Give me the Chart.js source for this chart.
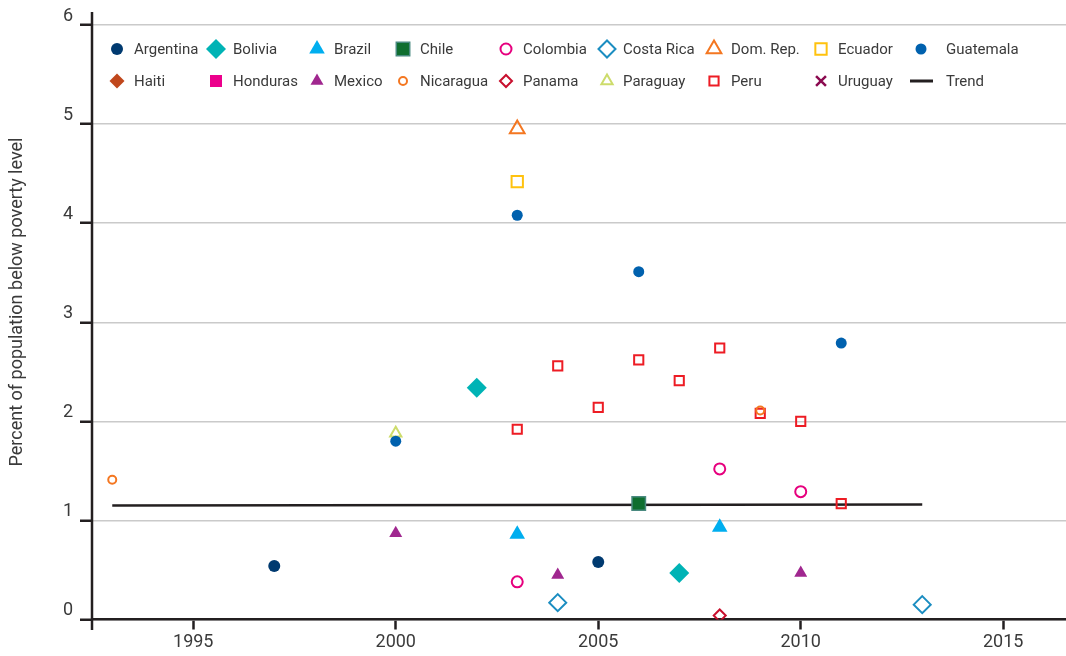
<!DOCTYPE html>
<html>
<head>
<meta charset="utf-8">
<title>Poverty level by country</title>
<script src="https://cdn.jsdelivr.net/npm/chart.js@4.4.1/dist/chart.umd.min.js"></script>
<style>
  html, body { margin: 0; padding: 0; background: #fff; }
  #wrap { width: 1066px; height: 656px; position: relative; }
</style>
</head>
<body>
<div id="wrap"><canvas id="povertyChart"></canvas></div>
<script>
// [year, percent] pairs
const argentina = [[1997, 0.54], [2005, 0.58]];
const bolivia = [[2002, 2.34], [2007, 0.47]];
const brazil = [[2003, 0.86], [2008, 0.93]];
const chile = [[2006, 1.17]];
const colombia = [[2003, 0.38], [2008, 1.52], [2010, 1.29]];
const costaRica = [[2004, 0.17], [2013, 0.15]];
const domRep = [[2003, 4.95]];
const ecuador = [[2003, 4.42]];
const guatemala = [[2000, 1.80], [2003, 4.08], [2006, 3.51], [2011, 2.79]];
const haiti = [];
const honduras = [];
const mexico = [[2000, 0.87], [2004, 0.45], [2010, 0.47]];
const nicaragua = [[1993, 1.41], [2009, 2.11]];
const panama = [[2008, 0.04]];
const paraguay = [[2000, 1.88]];
const peru = [[2003, 1.92], [2004, 2.56], [2005, 2.14], [2006, 2.62], [2007, 2.41],
              [2008, 2.74], [2009, 2.08], [2010, 2.00], [2011, 1.17]];
const uruguay = [];
const trend = [[1993, 1.15], [2013, 1.16]];

const xTicks = [1995, 2000, 2005, 2010, 2015];
const yTicks = [0, 1, 2, 3, 4, 5, 6];
const yTitle = "Percent of population below poverty level";

const FONT = "Roboto";
const INK = "#231f20";
const TEXT = "#3a3a3a";
const NONE = "rgba(0,0,0,0)";

function toXY(pairs) {
    return pairs.map(p => ({ x: p[0], y: p[1] }));
}

// filled marker
function solid(label, pairs, style, color, r) {
    return {
        label: label, data: toXY(pairs), pointStyle: style,
        backgroundColor: color, borderColor: color, borderWidth: 0,
        pointRadius: r, pointHoverRadius: r,
    };
}

// hollow marker
function hollow(label, pairs, style, color, r, bw) {
    return {
        label: label, data: toXY(pairs), pointStyle: style,
        backgroundColor: NONE, borderColor: color, borderWidth: bw || 2,
        pointRadius: r, pointHoverRadius: r,
    };
}

const chileSet = solid("Chile", chile, "rect", "#0f6e2f", 9.5);
chileSet.borderColor = "#4a8a80";
chileSet.borderWidth = 1.5;

const datasets = [
    solid("Argentina", argentina, "circle", "#003a70", 6),
    solid("Bolivia", bolivia, "rectRot", "#00b3b5", 10),
    solid("Brazil", brazil, "triangle", "#00aeef", 9),
    chileSet,
    hollow("Colombia", colombia, "circle", "#e6007e", 5.5),
    hollow("Costa Rica", costaRica, "rectRot", "#1b8dc1", 8.5),
    hollow("Dom. Rep.", domRep, "triangle", "#f47721", 8.5),
    hollow("Ecuador", ecuador, "rect", "#ffc20e", 8),
    solid("Guatemala", guatemala, "circle", "#0061ae", 5.5),
    solid("Haiti", haiti, "rectRot", "#c0471c", 7.5),
    solid("Honduras", honduras, "rect", "#ec008c", 8.5),
    solid("Mexico", mexico, "triangle", "#a0278f", 7.5),
    hollow("Nicaragua", nicaragua, "circle", "#f47721", 4),
    hollow("Panama", panama, "rectRot", "#c8102e", 6),
    hollow("Paraguay", paraguay, "triangle", "#cddc6b", 6.5),
    hollow("Peru", peru, "rect", "#ed1c24", 6.5),
    hollow("Uruguay", uruguay, "crossRot", "#8b0a50", 7, 2.5),
    {
        label: "Trend", data: toXY(trend), showLine: true,
        borderColor: INK, backgroundColor: INK, borderWidth: 2.5,
        pointRadius: 0, pointHoverRadius: 0, order: 1,
    },
];

// legend laid out as a 9 x 2 grid like the original
const legendSymbolX = [117, 216, 317, 403, 506, 607, 714, 821, 921];
const legendTextX = [134, 233, 334, 420, 523, 623, 731, 838, 946];
const legendRowY = [49, 81];

const gridLegend = {
    id: "gridLegend",
    afterDraw(chart) {
        const ctx = chart.ctx;
        ctx.save();
        ctx.font = "15px " + FONT;
        ctx.textBaseline = "middle";
        ctx.textAlign = "left";
        chart.data.datasets.forEach((ds, i) => {
            const col = i % 9;
            const y = legendRowY[Math.floor(i / 9)];
            const sx = legendSymbolX[col];
            if (ds.showLine) {
                ctx.strokeStyle = ds.borderColor;
                ctx.lineWidth = 3;
                ctx.beginPath();
                ctx.moveTo(sx - 11, y);
                ctx.lineTo(sx + 12, y);
                ctx.stroke();
            } else {
                ctx.fillStyle = ds.backgroundColor;
                ctx.strokeStyle = ds.borderColor;
                ctx.lineWidth = ds.borderWidth;
                Chart.helpers.drawPoint(ctx, {
                    pointStyle: ds.pointStyle, radius: ds.pointRadius,
                    rotation: 0, borderWidth: ds.borderWidth,
                }, sx, y);
            }
            ctx.fillStyle = TEXT;
            ctx.fillText(ds.label, legendTextX[col], y + 1);
        });
        ctx.restore();
    },
};

// y title and the y axis line that runs past the plot at both ends
const axisExtras = {
    id: "axisExtras",
    afterDraw(chart) {
        const ctx = chart.ctx;
        const left = chart.chartArea.left;
        ctx.save();
        ctx.strokeStyle = INK;
        ctx.lineWidth = 2.5;
        ctx.beginPath();
        ctx.moveTo(left, 12);
        ctx.lineTo(left, 630);
        ctx.stroke();

        ctx.translate(17, 302);
        ctx.rotate(-Math.PI / 2);
        ctx.font = "18px " + FONT;
        ctx.fillStyle = TEXT;
        ctx.textAlign = "center";
        ctx.textBaseline = "middle";
        ctx.fillText(yTitle, 0, 0);
        ctx.restore();
    },
};

Chart.defaults.font.family = FONT;

const ctx = document.getElementById("povertyChart").getContext("2d");
new Chart(ctx, {
    type: "scatter",
    data: { datasets: datasets },
    options: {
        responsive: true,
        maintainAspectRatio: false,
        animation: false,
        layout: {
            autoPadding: false,
            padding: { top: 25, right: 0, bottom: 0, left: 0 },
        },
        scales: {
            x: {
                type: "linear",
                min: 1992.5,
                max: 2016.55,
                afterBuildTicks: (s) => { s.ticks = xTicks.map(v => ({ value: v })); },
                afterFit: (s) => { s.height = 36.5; },
                border: { color: INK, width: 2.5 },
                grid: {
                    drawOnChartArea: false, drawTicks: true,
                    tickLength: 10, tickColor: INK, tickWidth: 2.5,
                },
                ticks: {
                    padding: 2, color: TEXT, maxRotation: 0, autoSkip: false,
                    font: { size: 18 },
                    callback: (v) => String(v),
                },
            },
            y: {
                min: 0,
                max: 6,
                afterBuildTicks: (s) => { s.ticks = yTicks.map(v => ({ value: v })); },
                afterFit: (s) => { s.width = 92; },
                border: { display: false },
                grid: {
                    color: "#cacaca", lineWidth: 1.5,
                    tickColor: INK, tickLength: 12, tickWidth: 2.5,
                },
                ticks: {
                    padding: 7, labelOffset: -9, color: TEXT,
                    font: { size: 18 },
                    callback: (v) => String(v),
                },
            },
        },
        plugins: {
            legend: { display: false },
            tooltip: { enabled: false },
        },
    },
    plugins: [gridLegend, axisExtras],
});
</script>
</body>
</html>
